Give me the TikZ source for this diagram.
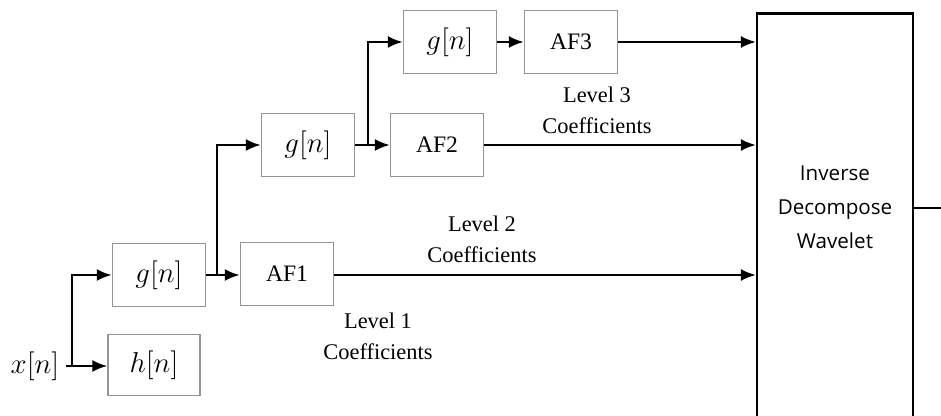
\documentclass[tikz,border=0pt]{standalone}
\usepackage{fontspec}
\setmainfont{Liberation Serif}
\newfontfamily\boxsans{Open Sans}
\usetikzlibrary{arrows.meta}
\begin{document}
\begin{tikzpicture}[x=0.5pt,y=-0.5pt,
  filt/.style={draw=black!42, line width=0.6pt, minimum width=46.5pt,
    minimum height=31.5pt, inner sep=0pt, font=\fontsize{15}{17}\selectfont},
  afbox/.style={filt, font=\fontsize{11.8}{14}\selectfont},
  flow/.style={line width=1.3pt, -{Latex[length=7.5pt,width=6pt]}},
  feed/.style={line width=1.1pt, -{Latex[length=7.5pt,width=6pt]}},
  lvl/.style={align=center, inner sep=0pt, font=\fontsize{11.2}{15.5}\selectfont}]
\useasboundingbox (0,0) rectangle (941,416);
\fill[white] (0,0) rectangle (941,416);

% input and first level filters
\node (x) at (35,366) {\fontsize{15}{17}\selectfont $x[n]$};
\node[filt] (g1) at (159,275) {$g[n]$};
\node[filt, minimum width=46pt, minimum height=30.5pt] (h) at (154,365) {$h[n]$};
\node[afbox] (af1) at (287,274) {AF1};

% second level
\node[filt] (g2) at (308,145) {$g[n]$};
\node[afbox] (af2) at (437,145) {AF2};

% third level
\node[filt] (g3) at (450,42) {$g[n]$};
\node[afbox] (af3) at (571,42) {AF3};

% reconstruction block and its caption
\node[draw, line width=1.1pt, minimum width=78pt, minimum height=203pt,
      inner sep=0pt] (idw) at (835,216.5) {};
\node[align=center, font=\boxsans\fontsize{10.3}{17}\selectfont]
      (idwtext) at (835,207) {Inverse\\Decompose\\Wavelet};

% coefficient labels
\node[lvl] (l1) at (378,336) {Level 1\\Coefficients};
\node[lvl] (l2) at (482,239) {Level 2\\Coefficients};
\node[lvl] (l3) at (597,110) {Level 3\\Coefficients};

% branch points
\coordinate (b0) at (72,366);
\coordinate (b1) at (217,275);
\coordinate (b2) at (368,145);
\coordinate (out) at (941,208);

% filter tree
\draw[flow] (x.east |- b0) -- (h.west |- b0);
\draw[flow] (b0) |- (g1.west);
\draw[flow] (g1.east) -- (af1.west |- g1.east);
\draw[flow] (b1) |- (g2.west);
\draw[flow] (g2.east) -- (af2.west);
\draw[flow] (b2) |- (g3.west);
\draw[flow] (g3.east) -- (af3.west);

% coefficients into the inverse transform
\draw[feed] (af3.east) -- (af3.east -| idw.west);
\draw[feed] (af2.east) -- (af2.east -| idw.west);
\draw[feed] (af1.east |- b1) -- (b1 -| idw.west);
\draw[line width=1.1pt] (idw.east |- out) -- (out);
\end{tikzpicture}
\end{document}
